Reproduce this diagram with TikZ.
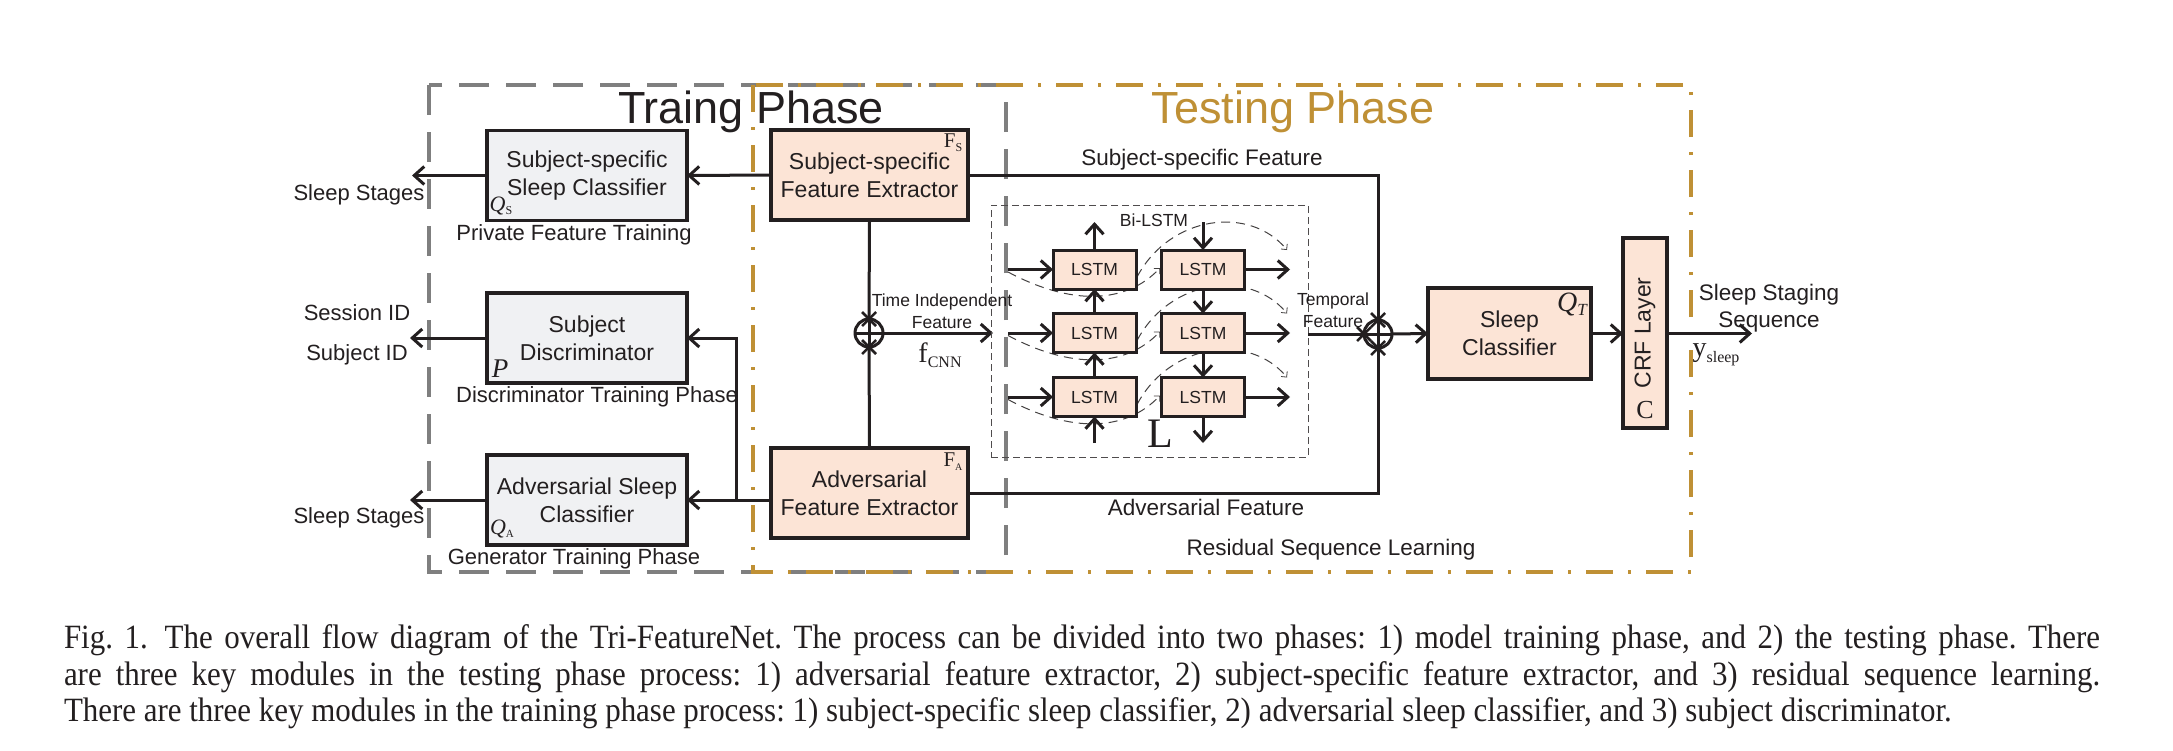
\documentclass[tikz,border=0pt]{standalone}
\usepackage{fontspec}
\setmainfont{Liberation Sans}
\newfontfamily\tnr{Liberation Serif}
\newfontfamily\capfont[FakeStretch=0.91]{Liberation Serif}
\usetikzlibrary{arrows.meta}
\definecolor{ink}{HTML}{231F20}
\definecolor{boxgray}{HTML}{F0F1F3}
\definecolor{peach}{HTML}{FCE4D6}
\definecolor{framegray}{HTML}{7F7F7F}
\definecolor{gold}{HTML}{BF9035}
\newcommand{\crossmk}[1]{\draw[draw=ink,line width=2.5pt] (#1) ++(-7,-7) -- ++(14,14) ++(0,-14) -- ++(-14,14);}
\begin{document}
\begin{tikzpicture}[x=1pt,y=-1pt,
 every node/.style={inner sep=0pt,outer sep=0pt,text=ink},
 lbl/.style={font=\fontsize{22}{26}\selectfont},
 smalllbl/.style={font=\fontsize{17.5}{22}\selectfont,align=center},
 graybox/.style={draw=ink,line width=3.3pt,fill=boxgray,minimum width=200pt,minimum height=90pt,align=center,font=\fontsize{23}{28}\selectfont},
 peachbox/.style={graybox,fill=peach},
 lstmbox/.style={draw=ink,line width=3pt,fill=peach,minimum width=83pt,minimum height=39pt,font=\fontsize{17.5}{20}\selectfont},
 conn/.style={draw=ink,line width=3pt},
 arr/.style={conn,-{Straight Barb[length=10pt,width=18pt]}},
 arcdash/.style={draw=ink!85,line width=1pt,dash pattern=on 9pt off 6pt,-{Straight Barb[length=4pt,width=8pt,line width=0.8pt]}},
 opl/.style={circle,draw=ink,line width=3pt,minimum size=28pt,path picture={\draw[ink,line width=3pt] (path picture bounding box.north) -- (path picture bounding box.south) (path picture bounding box.west) -- (path picture bounding box.east);}},
 trainframe/.style={draw=framegray,line width=4pt,dash pattern=on 30pt off 17pt},
 testframe/.style={draw=gold,line width=4pt,dash pattern=on 27pt off 15pt on 3pt off 15pt},
]
\fill[white] (0,0) rectangle (2173,750);
\useasboundingbox (0,0) rectangle (2173,750);

% phase frames
\draw[trainframe] (429,85) rectangle (1006,572);
\draw[testframe] (753,85) rectangle (1691,572);
\node[anchor=base,font=\fontsize{45}{50}\selectfont] (ttrain) at (751,123) {Traing Phase};
\node[anchor=base,font=\fontsize{45}{50}\selectfont,text=gold] (ttest) at (1293,123) {Testing Phase};

% training boxes
\node[graybox] (ssc) at (587,175.5) {Subject-specific\\Sleep Classifier};
\node[graybox] (disc) at (587,338) {Subject\\Discriminator};
\node[graybox] (asc) at (587,500) {Adversarial Sleep\\Classifier};
\node[font=\tnr\fontsize{22}{26}\selectfont] (qs) at (501,206) {\itshape Q\raisebox{-3pt}{\fontsize{12}{12}\selectfont\upshape S}};
\node[font=\tnr\fontsize{27}{30}\selectfont] (pp) at (500,369) {\itshape P};
\node[font=\tnr\fontsize{22}{26}\selectfont] (qa) at (502,529) {\itshape Q\raisebox{-3pt}{\fontsize{11}{11}\selectfont\upshape A}};

\node[lbl] (lss1) at (359,195) {Sleep Stages};
\node[lbl] (lpft) at (574,235) {Private Feature Training};
\node[lbl] (lsess) at (357,313) {Session ID};
\node[lbl] (lsubj) at (357,355) {Subject ID};
\node[lbl] (ldtp) at (597,397) {Discriminator Training Phase};
\node[lbl] (lss2) at (359,518) {Sleep Stages};
\node[lbl] (lgtp) at (574,559) {Generator Training Phase};

% feature extractors
\node[peachbox,minimum width=197pt] (ssfe) at (869.5,175) {Subject-specific\\Feature Extractor};
\node[peachbox,minimum width=197pt] (afe) at (869.5,493) {Adversarial\\Feature Extractor};
\node[font=\tnr\fontsize{21}{24}\selectfont] (fs) at (953,143) {F\raisebox{-4pt}{\fontsize{12}{12}\selectfont S}};
\node[font=\tnr\fontsize{21}{24}\selectfont] (fa) at (953,462) {F\raisebox{-4pt}{\fontsize{10}{10}\selectfont A}};

\coordinate (o1) at (412,175.5);
\coordinate (o2) at (410,338);
\coordinate (o3) at (410,500);
\coordinate (j1) at (736,500);
\coordinate (j2) at (736,338);
\draw[arr] (ssfe.west) -- (ssc.east);
\draw[arr] (ssc.west) -- (o1);
\draw[arr] (disc.west) -- (o2);
\draw[arr] (asc.west) -- (o3);
\draw[arr] (afe.west |- asc.east) -- (asc.east);
\draw[arr] (j1) -- (j2) -- (disc.east);

% first sum
\node[opl] (op1) at (869,333) {};
\draw[conn] (ssfe.south) -- (op1.north);
\draw[conn] (afe.north) -- (op1.south);
\crossmk{op1.north}
\crossmk{op1.south}
\coordinate (tif) at (993,333);
\draw[arr] (op1.east) -- (tif);
\node[smalllbl] (ltif) at (942,311) {Time Independent\\Feature};
\node[font=\tnr\fontsize{28}{30}\selectfont] (fcnn) at (940,355) {f\raisebox{-5pt}{\fontsize{16}{16}\selectfont CNN}};

% Bi-LSTM block
\node[draw=ink!80,line width=1pt,dash pattern=on 7pt off 4pt,minimum width=317pt,minimum height=252pt] (bil) at (1149.5,331) {};
\node[smalllbl] (lbil) at (1154,220) {Bi-LSTM};
\node[font=\tnr\fontsize{42}{44}\selectfont] (lL) at (1160,434) {L};
\foreach \d in {0,63.5,127.5}{
  \draw[arcdash] (1008,{272+\d}) .. controls (1070,{305+\d}) and (1125,{305+\d}) .. (1160,{268+\d});
  \draw[arcdash] (1137,{277+\d}) .. controls (1170,{215+\d}) and (1250,{205+\d}) .. (1287,{250+\d});
}
\node[lstmbox] (l11) at (1094.5,269.5) {LSTM};
\node[lstmbox] (l12) at (1203,269.5) {LSTM};
\node[lstmbox] (l21) at (1094.5,333) {LSTM};
\node[lstmbox] (l22) at (1203,333) {LSTM};
\node[lstmbox] (l31) at (1094.5,397) {LSTM};
\node[lstmbox] (l32) at (1203,397) {LSTM};
\coordinate (c1t) at (1094.5,222); \coordinate (c1b) at (1094.5,443);
\coordinate (c2t) at (1203,222); \coordinate (c2b) at (1203,443);
\draw[arr] (l11.north) -- (c1t);
\draw[arr] (l21.north) -- (l11.south);
\draw[arr] (l31.north) -- (l21.south);
\draw[arr] (c1b) -- (l31.south);
\draw[arr] (c2t) -- (l12.north);
\draw[arr] (l12.south) -- (l22.north);
\draw[arr] (l22.south) -- (l32.north);
\draw[arr] (l32.south) -- (c2b);
\coordinate (i1) at (1008,269.5); \coordinate (i2) at (1008,333); \coordinate (i3) at (1008,397);
\coordinate (q1) at (1290,269.5); \coordinate (q2) at (1290,333); \coordinate (q3) at (1290,397);
\draw[arr] (i1) -- (l11.west);
\draw[arr] (i2) -- (l21.west);
\draw[arr] (i3) -- (l31.west);
\draw[arr] (l12.east) -- (q1);
\draw[arr] (l22.east) -- (q2);
\draw[arr] (l32.east) -- (q3);
\node[smalllbl] (ltf) at (1333,310) {Temporal\\Feature};

% second sum and classifier
\node[opl] (op2) at (1378,334) {};
\draw[conn] (ssfe.east) -- (ssfe.east -| op2) -- (op2.north);
\draw[conn] (afe.east) -- (afe.east -| op2) -- (op2.south);
\draw[conn] (bil.east |- op2) -- (op2.west);
\crossmk{op2.north}
\crossmk{op2.west}
\crossmk{op2.south}
\node[lbl,font=\fontsize{22.5}{26}\selectfont] (lssf) at (1202,160) {Subject-specific Feature};
\node[lbl,font=\fontsize{22.5}{26}\selectfont] (laf) at (1206,507) {Adversarial Feature};
\node[lbl,font=\fontsize{22.5}{26}\selectfont] (lrsl) at (1331,550) {Residual Sequence Learning};

\node[peachbox,minimum width=163pt,minimum height=91pt] (sc) at (1509.5,333.5) {Sleep\\Classifier};
\node[font=\tnr\fontsize{28}{30}\selectfont] (qt) at (1572,304) {\itshape Q\raisebox{-4pt}{\fontsize{17}{17}\selectfont T}};
\node[peachbox,minimum width=44pt,minimum height=190pt] (crf) at (1645,333) {};
\node[rotate=90,font=\fontsize{23}{28}\selectfont] (crft) at (1645,333) {CRF Layer};
\node[font=\tnr\fontsize{26}{30}\selectfont] (crfc) at (1645,410) {C};
\draw[arr] (op2.east) -- (sc.west);
\draw[arr] (sc.east) -- (crf.west |- sc.east);
\coordinate (yout) at (1752,333.5);
\draw[arr] (crf.east |- sc.east) -- (yout);
\node[align=center,font=\fontsize{22.5}{27}\selectfont] (lsss) at (1769,308) {Sleep Staging\\Sequence};
\node[font=\tnr\fontsize{28}{30}\selectfont] (ysl) at (1716,355) {y\raisebox{-6pt}{\fontsize{16}{16}\selectfont sleep}};

% caption
\node[anchor=north west] (cap) at (64,625) {\parbox{2036pt}{\capfont\fontsize{34}{36.5}\selectfont\frenchspacing
\hbox to\hsize{Fig.~1.\enskip The overall flow diagram of the Tri-FeatureNet. The process can be divided into two phases: 1) model training phase, and 2) the testing phase. There}
\hbox to\hsize{are three key modules in the testing phase process: 1) adversarial feature extractor, 2) subject-specific feature extractor, and 3) residual sequence learning.}
\hbox{There are three key modules in the training phase process: 1) subject-specific sleep classifier, 2) adversarial sleep classifier, and 3) subject discriminator.}}};
\end{tikzpicture}
\end{document}
